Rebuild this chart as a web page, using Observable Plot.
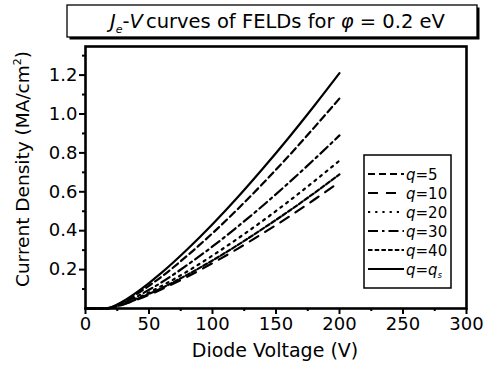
<!DOCTYPE html>
<html><head><meta charset="utf-8">
<script src="https://cdn.jsdelivr.net/npm/d3@7"></script>
<script src="https://cdn.jsdelivr.net/npm/@observablehq/plot@0.6"></script>
<style>body{margin:0;background:#fff}svg{display:block}</style>
</head><body><div id="chart"></div>
<script>
// ---- data ----
const voltage = [0, 10, 15, 20, 25, 30, 40, 50, 60, 80, 100, 120, 140, 160, 180, 200];
const q5  = [0, 0, 0, 0.005, 0.019, 0.035, 0.073, 0.117, 0.164, 0.271, 0.387, 0.512, 0.645, 0.784, 0.930, 1.08];
const q10 = [0, 0, 0, 0.003, 0.011, 0.021, 0.044, 0.070, 0.099, 0.163, 0.233, 0.308, 0.388, 0.471, 0.559, 0.65];
const q20 = [0, 0, 0, 0.004, 0.013, 0.024, 0.051, 0.082, 0.116, 0.190, 0.272, 0.360, 0.453, 0.551, 0.654, 0.76];
const q30 = [0, 0, 0, 0.004, 0.015, 0.029, 0.060, 0.096, 0.135, 0.223, 0.319, 0.422, 0.531, 0.646, 0.766, 0.89];
const q40 = [0, 0, 0, 0.003, 0.012, 0.022, 0.047, 0.075, 0.105, 0.173, 0.247, 0.327, 0.412, 0.500, 0.593, 0.69];
const qs  = [0, 0, 0, 0.006, 0.021, 0.039, 0.082, 0.131, 0.184, 0.303, 0.433, 0.573, 0.722, 0.878, 1.041, 1.21];
const seriesNames = ["5", "10", "20", "30", "40", "s"];
const xTicks = [0, 50, 100, 150, 200, 250, 300];
const xMinor = [25, 75, 125, 175, 225, 275];
const yTicks = [0.2, 0.4, 0.6, 0.8, 1.0, 1.2];
const yMinor = [0.1, 0.3, 0.5, 0.7, 0.9, 1.1, 1.3];
const titleText = {pre: "J", sub: "e", mid: "V", rest: "curves of FELDs for ", phi: "φ", tail: " = 0.2 eV"};
const xLabel = "Diode Voltage (V)";
const yLabel = "Current Density (MA/cm";

// ---- styles ----
const dashes = ["7,4", "10,8", "2.2,5", "10,4,2.5,4", "4.5,2.2", null];
const allValues = [q5, q10, q20, q30, q40, qs];

const series = allValues.map((vals, k) => voltage.map((v, i) => ({V: v, J: vals[i], q: seriesNames[k]})));

const FONT = "DejaVu Sans";
const plot = Plot.plot({
  width: 484, height: 367,
  marginLeft: 85, marginRight: 18, marginTop: 46, marginBottom: 59,
  style: {fontFamily: FONT, fontSize: "18px", color: "black", background: "white"},
  x: {domain: [0, 300]},
  y: {domain: [0, 1.347]},
  marks: [
    Plot.axisX({ticks: xTicks, tickSize: 6, tickPadding: 3, tickFormat: d => String(d), strokeWidth: 2, label: null, fontSize: 18}),
    Plot.axisX({ticks: xMinor, tickSize: 3, tickFormat: () => "", strokeWidth: 2, label: null}),
    Plot.axisY({ticks: yTicks, tickSize: 6, tickPadding: 2, tickFormat: d => d.toFixed(1), strokeWidth: 2, label: null, fontSize: 18}),
    Plot.axisY({ticks: yMinor, tickSize: 3, tickFormat: () => "", strokeWidth: 2, label: null}),
    ...series.map((data, k) => Plot.line(data, {x: "V", y: "J", stroke: "black", strokeWidth: 2.2, strokeDasharray: dashes[k], curve: "monotone-x"})),
    Plot.frame({stroke: "black", strokeWidth: 2.6})
  ]
});
document.getElementById("chart").appendChild(plot);

const svg = d3.select(plot);
// title box
const tg = svg.append("g").attr("text-anchor", "start");
tg.append("rect").attr("x", 69.5).attr("y", 7.5).attr("width", 410).attr("height", 32).attr("fill", "black");
tg.append("rect").attr("x", 67).attr("y", 5).attr("width", 410).attr("height", 32).attr("fill", "white").attr("stroke", "black").attr("stroke-width", 1.3);
const tt = tg.append("text").attr("x", 110).attr("y", 28).attr("text-anchor", "start").attr("font-family", FONT).attr("font-size", 19.5).attr("fill", "black");
tt.append("tspan").attr("font-style", "italic").text(titleText.pre);
tt.append("tspan").attr("font-style", "italic").attr("font-size", 11).attr("dy", 5).text(titleText.sub);
tt.append("tspan").attr("dy", -5).text("-");
tt.append("tspan").attr("font-style", "italic").text(titleText.mid);
tt.append("tspan").attr("dx", 3).text(titleText.rest);
tt.append("tspan").attr("font-style", "italic").text(titleText.phi);
tt.append("tspan").text(titleText.tail);

// axis labels
svg.append("text").attr("x", 275).attr("y", 357).attr("text-anchor", "middle")
  .attr("font-family", FONT).attr("font-size", 19).text(xLabel);
const yl = svg.append("text").attr("transform", "translate(29,169) rotate(-90)").attr("text-anchor", "middle")
  .attr("font-family", FONT).attr("font-size", 18.5);
yl.append("tspan").text(yLabel);
yl.append("tspan").attr("font-size", 11).attr("dy", -8).text("2");
yl.append("tspan").attr("dy", 8).text(")");

// legend
const lg = svg.append("g").attr("text-anchor", "start");
lg.append("rect").attr("x", 364).attr("y", 155).attr("width", 87).attr("height", 133)
  .attr("fill", "white").attr("stroke", "black").attr("stroke-width", 1.5);
seriesNames.forEach((name, k) => {
  const y = 174 + k * 19;
  const ln = lg.append("line").attr("x1", 368).attr("x2", 404).attr("y1", y).attr("y2", y)
    .attr("stroke", "black").attr("stroke-width", 2.2);
  if (dashes[k]) ln.attr("stroke-dasharray", dashes[k]);
  const t = lg.append("text").attr("x", 406).attr("y", y + 5.5).attr("text-anchor", "start").attr("font-family", FONT).attr("font-size", 15);
  t.append("tspan").attr("font-style", "italic").text("q");
  if (name === "s") {
    t.append("tspan").text("=");
    t.append("tspan").attr("font-style", "italic").text("q");
    t.append("tspan").attr("font-style", "italic").attr("font-size", 8).attr("dy", 3).text("s");
  } else {
    t.append("tspan").text("=" + name);
  }
});
</script>
</body></html>
